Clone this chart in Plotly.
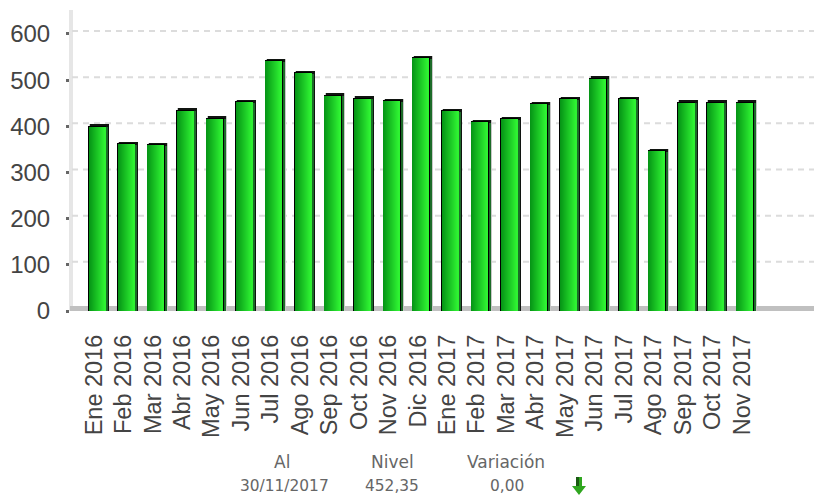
import plotly.graph_objects as go

categories = ["Ene 2016","Feb 2016","Mar 2016","Abr 2016","May 2016","Jun 2016","Jul 2016","Ago 2016","Sep 2016","Oct 2016","Nov 2016","Dic 2016",
              "Ene 2017","Feb 2017","Mar 2017","Abr 2017","May 2017","Jun 2017","Jul 2017","Ago 2017","Sep 2017","Oct 2017","Nov 2017"]
values = [397,359,357,432,414,450,539,513,464,458,452,545,431,407,413,446,456,501,456,344,449,449,449]
y_ticks = [0,100,200,300,400,500,600]

W, H = 814, 495
L, R, T, B = 70, 814, 5, 311
PX_PER_UNIT = 0.4617
STEP = 29.45
y_max = (B - T) / PX_PER_UNIT
x0 = (L - 97) / STEP
x1 = (R - 97) / STEP
u = 1 / STEP                # one pixel in category units
v = 1 / PX_PER_UNIT         # one pixel in value units

def lerp(c1, c2, t):
    return "rgb(%d,%d,%d)" % tuple(round(a + (b - a) * t) for a, b in zip(c1, c2))

fig = go.Figure()

def bar(vals, left_px, width_px, color):
    fig.add_trace(go.Bar(x=categories, y=vals, width=width_px * u, offset=left_px * u,
                         cliponaxis=False,
                         marker=dict(color=color, line=dict(width=0)), hoverinfo="skip"))

# shadow, depth, outline, gradient face
bar([a + 3.5 * v for a in values], -8, 20, "#c8c8c8")
bar([a + 3.5 * v for a in values], -7, 18.5, "#101410")
bar([a + 0.5 * v for a in values], 9, 2, "#1c6b28")
bar([a + 2 * v for a in values], -9, 18, "#000000")
n = 16
for i in range(n):
    t = i / (n - 1)
    c = lerp((6, 150, 22), (46, 242, 50), t)
    bar([a + 1 * v for a in values], -8 + i, 1.2, c)

shapes = []
def px(x): return (x - L) / (R - L)
def py(y): return (B - y) / (B - T)

# walls and floor
shapes.append(dict(type="rect", xref="paper", yref="paper", layer="below",
                   x0=px(69), x1=px(73), y0=py(B), y1=py(10), fillcolor="#e6e6e6", line_width=0))
shapes.append(dict(type="rect", xref="paper", yref="paper", layer="below",
                   x0=px(70), x1=px(814), y0=py(B), y1=py(306), fillcolor="#c0c0c0", line_width=0))
# gridlines on the back wall, 3px above the axis ticks
for t in y_ticks[1:]:
    shapes.append(dict(type="line", xref="paper", yref="y", layer="below",
                       x0=px(72), x1=px(814), y0=t + 3 * v, y1=t + 3 * v,
                       line=dict(color="#dcdcdc", width=2, dash="6px,5px")))
# down arrow
def arrow(pts, col):
    return dict(type="path", xref="paper", yref="paper",
                path="M " + " L ".join(f"{px(a)},{py(b)}" for a, b in pts) + " Z",
                fillcolor=col, line_width=0)
shapes.append(arrow([(576,477),(582,477),(582,486),(586,486),(579,495),(572,486),(576,486)], "#2fa61f"))
shapes.append(arrow([(576,477),(579,477),(579,486),(576,486)], "#1a5a12"))

header_font = dict(family="DejaVu Sans, Verdana, sans-serif", size=17, color="#666666")
value_font = dict(family="DejaVu Sans, Verdana, sans-serif", size=15.4, color="#666666")
annots = []
for x, y, s, f in [(282,462,"Al",header_font),(392,462,"Nivel",header_font),(506,462,"Variación",header_font),
                   (284,486,"30/11/2017",value_font),(392,486,"452,35",value_font),(507,486,"0,00",value_font)]:
    annots.append(dict(xref="paper", yref="paper", x=px(x), y=py(y), text=s, showarrow=False,
                       xanchor="center", yanchor="middle", font=f))

fig.update_layout(
    width=W, height=H, autosize=False,
    margin=dict(l=L, r=W - R, t=T, b=H - B, autoexpand=False),
    paper_bgcolor="white", plot_bgcolor="white",
    barmode="overlay", showlegend=False, bargap=0,
    shapes=shapes, annotations=annots,
    font=dict(family="Liberation Sans, Arial, sans-serif", color="#444444"),
    xaxis=dict(type="category", categoryorder="array", categoryarray=categories,
               range=[x0, x1], tickmode="array", tickvals=categories, ticktext=categories,
               tickangle=-90, ticks="", showgrid=False, zeroline=False, showline=False, automargin=False,
               tickfont=dict(size=23.5, color="#444444"), ticklabelstandoff=18, ticklabelshift=-3),
    yaxis=dict(range=[0, y_max], tickvals=y_ticks, ticks="outside", ticklen=3, tickwidth=3, automargin=False,
               tickcolor="#666666", showgrid=False, zeroline=False, showline=False,
               tickfont=dict(size=24, color="#444444"), ticklabelstandoff=11),
)
fig.write_html("out.html", config=dict(displayModeBar=False),
               post_script="document.body.style.margin='0';document.documentElement.style.overflow='hidden';")
